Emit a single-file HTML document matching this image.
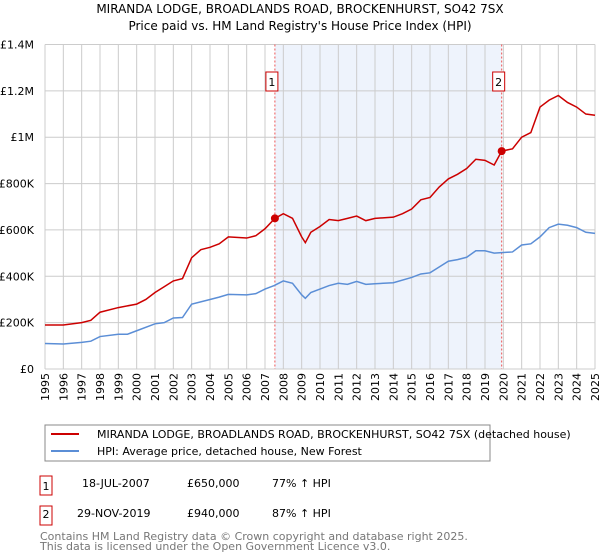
<!DOCTYPE html>
<html><head><meta charset="utf-8"><style>
body{margin:0;background:#fff;font-family:"Liberation Sans","DejaVu Sans",sans-serif;}
#wrap{position:relative;width:600px;height:560px;overflow:hidden}
svg text{font-family:"DejaVu Sans","Liberation Sans",sans-serif}
</style></head><body>
<div id="wrap">
<svg id="chart" width="600" height="560" xmlns="http://www.w3.org/2000/svg">
<text x="300" y="13" text-anchor="middle" font-size="12" fill="#000">MIRANDA LODGE, BROADLANDS ROAD, BROCKENHURST, SO42 7SX</text>
<text x="300" y="30" text-anchor="middle" font-size="12" fill="#000">Price paid vs. HM Land Registry's House Price Index (HPI)</text>
<g id="plot"></g>
<rect x="45" y="425" width="445" height="36" fill="none" stroke="#888"/>
<line x1="51" y1="434" x2="79" y2="434" stroke="#cc0000" stroke-width="2"/>
<text x="97" y="438" font-size="11">MIRANDA LODGE, BROADLANDS ROAD, BROCKENHURST, SO42 7SX (detached house)</text>
<line x1="51" y1="451" x2="79" y2="451" stroke="#5b8ed6" stroke-width="2"/>
<text x="97" y="455" font-size="11">HPI: Average price, detached house, New Forest</text>
<g>
<rect x="40" y="476" width="12" height="19" fill="none" stroke="#cc0000"/>
<text x="46" y="490" font-size="11" text-anchor="middle">1</text>
<text x="82" y="487" font-size="11">18-JUL-2007</text>
<text x="187" y="487" font-size="11">£650,000</text>
<text x="272" y="487" font-size="11">77% ↑ HPI</text></g>
<g>
<rect x="40" y="506" width="12" height="19" fill="none" stroke="#cc0000"/>
<text x="46" y="518" font-size="11" text-anchor="middle">2</text>
<text x="77" y="517" font-size="11">29-NOV-2019</text>
<text x="187" y="517" font-size="11">£940,000</text>
<text x="272" y="517" font-size="11">87% ↑ HPI</text></g>
<text x="40" y="540" font-size="11" fill="#777">Contains HM Land Registry data © Crown copyright and database right 2025.</text>
<text x="40" y="550" font-size="11" fill="#777">This data is licensed under the Open Government Licence v3.0.</text>
</svg>
</div>
<script>
const yearTicks=[1995,1996,1997,1998,1999,2000,2001,2002,2003,2004,2005,2006,2007,2008,2009,2010,2011,2012,2013,2014,2015,2016,2017,2018,2019,2020,2021,2022,2023,2024,2025];
const yTicks=[0,200000,400000,600000,800000,1000000,1200000,1400000];
const yTickLabels=["£0","£200K","£400K","£600K","£800K","£1M","£1.2M","£1.4M"];
const hpiDates=[1995,1996,1997,1997.5,1998,1999,1999.5,2000,2001,2001.5,2002,2002.5,2003,2004,2004.5,2005,2006,2006.5,2007,2007.5,2008,2008.5,2009,2009.2,2009.5,2010,2010.5,2011,2011.5,2012,2012.5,2013,2014,2015,2015.5,2016,2016.5,2017,2017.5,2018,2018.5,2019,2019.5,2019.9,2020.5,2021,2021.5,2022,2022.5,2023,2023.5,2024,2024.5,2025];
const hpiValues=[110,108,115,120,140,150,150,165,195,200,220,222,280,300,310,322,320,325,345,360,380,370,320,305,330,345,360,370,365,378,365,368,372,395,410,415,440,465,472,482,510,510,500,502,505,535,540,570,610,625,620,610,590,585];
const propDates=[1995,1996,1997,1997.5,1998,1999,2000,2000.5,2001,2001.5,2002,2002.5,2003,2003.5,2004,2004.5,2005,2006,2006.5,2007,2007.54,2008,2008.5,2009,2009.2,2009.5,2010,2010.5,2011,2011.5,2012,2012.5,2013,2014,2014.5,2015,2015.5,2016,2016.5,2017,2017.5,2018,2018.5,2019,2019.5,2019.91,2020.5,2021,2021.5,2022,2022.5,2023,2023.5,2024,2024.5,2025];
const propValues=[190,190,200,210,245,265,280,300,330,355,380,390,480,515,525,540,570,565,575,605,650,670,650,570,545,590,615,645,640,650,660,640,650,655,670,690,730,740,785,820,840,865,905,900,880,940,950,1000,1020,1130,1160,1180,1150,1130,1100,1095];
const saleDates=[2007.54,2019.91];
const saleValues=[650000,940000];
const saleLabels=["1","2"];

const NS="http://www.w3.org/2000/svg";
const X0=45,X1=595,Y0=369,Y1=44.5;
const xs=t=>X0+(t-1995)/(2025-1995)*(X1-X0);
const ys=v=>Y0-v/1400000*(Y0-Y1);
const plot=document.getElementById('plot');
function mk(tag,attrs){const e=document.createElementNS(NS,tag);for(const k in attrs)e.setAttribute(k,attrs[k]);plot.appendChild(e);return e;}

let band=mk('rect',{x:xs(saleDates[0]),y:Y1,width:xs(saleDates[1])-xs(saleDates[0]),height:Y0-Y1,fill:'#eef3fc'});


yearTicks.forEach(y=>{
 const l=mk('line',{x1:xs(y),x2:xs(y),y1:Y1,y2:Y0,stroke:'#ccc'});
 
 
 const t=mk('text',{x:0,y:0,'font-size':11,'text-anchor':'end',transform:`translate(${xs(y)+4},373) rotate(-90)`});
 t.textContent=y;
 
 
});
yTicks.forEach((v,i)=>{
 const l=mk('line',{x1:X0,x2:X1,y1:ys(v),y2:ys(v),stroke:'#ccc'});
 
 
 const t=mk('text',{x:X0-11,y:ys(v)+4,'font-size':11,'text-anchor':'end'});
 t.textContent=yTickLabels[i];
 
 
});
saleDates.forEach((d,i)=>{
 const l=mk('line',{x1:xs(d),x2:xs(d),y1:Y1,y2:Y0,stroke:'#ee5555','stroke-dasharray':'2,2'});
 
 
 const r=mk('rect',{x:xs(d)-9,y:72,width:12,height:19,fill:'#fff',stroke:'#cc0000'});
 
 
 const t=mk('text',{x:xs(d)-3,y:86,'font-size':11,'text-anchor':'middle'});
 t.textContent=saleLabels[i];
 
 
});
const hp=mk('polyline',{points:hpiDates.map((d,i)=>xs(d)+','+ys(hpiValues[i]*1000)).join(' '),fill:'none',stroke:'#5b8ed6','stroke-width':1.5});


const pp=mk('polyline',{points:propDates.map((d,i)=>xs(d)+','+ys(propValues[i]*1000)).join(' '),fill:'none',stroke:'#cc0000','stroke-width':1.5});


saleDates.forEach((d,i)=>{
 const c=mk('circle',{cx:xs(d),cy:ys(saleValues[i]),r:4,fill:'#cc0000'});
 
 
});
</script>
</body></html>
